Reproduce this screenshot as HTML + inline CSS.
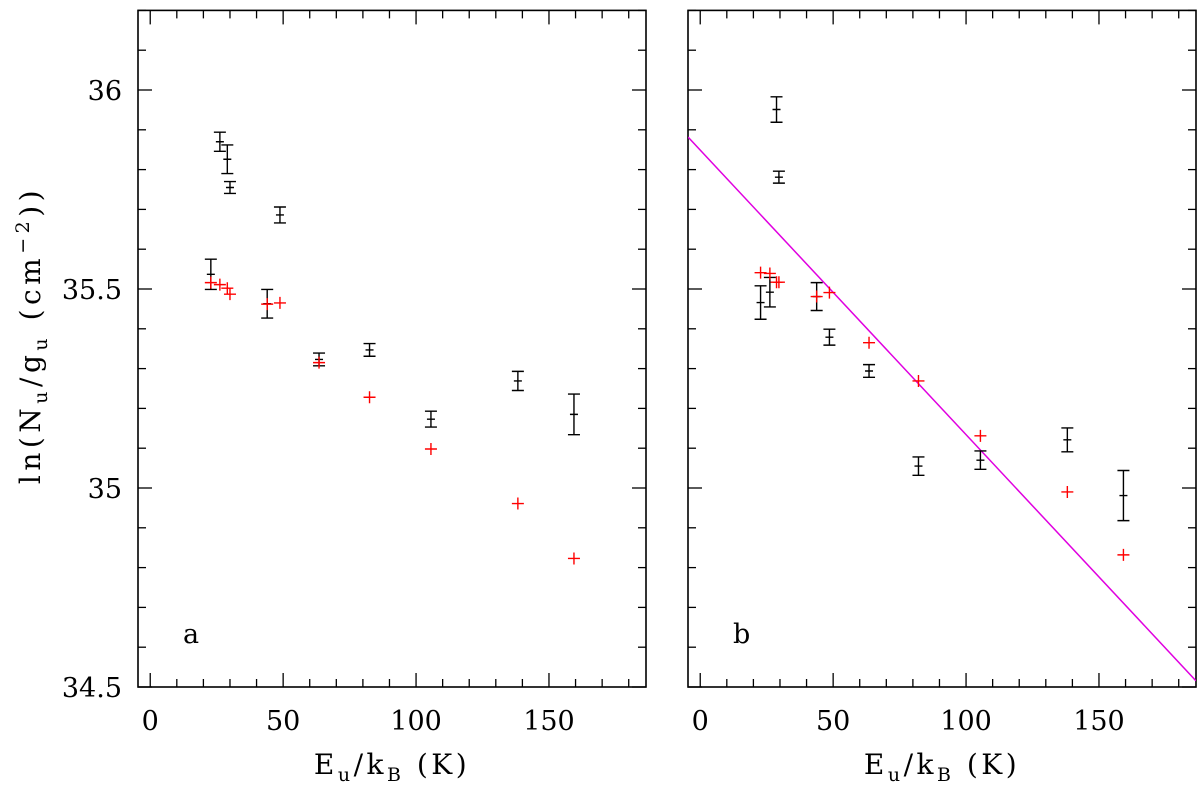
<!DOCTYPE html>
<html><head><meta charset="utf-8"><style>
body{margin:0;background:#fff}
svg{display:block}
text{font-family:"DejaVu Serif","Liberation Serif",serif;fill:#000}
</style></head><body>
<svg id="chart" width="1200" height="785" viewBox="0 0 1200 785" xmlns="http://www.w3.org/2000/svg"></svg>
<script>
const xTicks=[0,50,100,150];
const yTicks=[34.5,35,35.5,36];
const yTickLabels=["34.5","35","35.5","36"];
const energiesA=[22.8,26.2,29.0,30.0,44.0,48.8,63.5,82.5,105.6,138.3,159.4];
const blackA=[35.537,35.870,35.826,35.755,35.463,35.686,35.323,35.347,35.173,35.269,35.185];
const errA=[0.038,0.024,0.036,0.015,0.036,0.020,0.016,0.016,0.020,0.024,0.051];
const redA=[35.516,35.511,35.502,35.487,35.462,35.465,35.315,35.228,35.098,34.961,34.823];
const energiesB=[22.7,26.2,28.7,29.6,43.8,48.6,63.5,82.1,105.4,138.1,159.2];
const blackB=[35.466,35.492,35.951,35.781,35.481,35.379,35.294,35.055,35.070,35.121,34.981];
const errB=[0.042,0.037,0.032,0.015,0.035,0.020,0.016,0.023,0.023,0.030,0.063];
const redB=[35.541,35.539,35.517,35.517,35.481,35.491,35.365,35.269,35.131,34.990,34.832];
const fitIntercept=35.849;
const fitSlope=-0.00715;

const NS="http://www.w3.org/2000/svg";
const svg=document.getElementById('chart');
const X0=-4.6,X1=186.5,Y0=34.5,Y1=36.2;
function el(tag,attrs,parent){const e=document.createElementNS(NS,tag);for(const k in attrs)e.setAttribute(k,attrs[k]);(parent||svg).appendChild(e);return e;}
function makePanel(left,name,energies,black,err,red,label,fit){
  const L=left,R=left+508,T=10.4,B=687;
  const sx=v=>L+(v-X0)/(X1-X0)*(R-L);
  const sy=v=>B-(v-Y0)/(Y1-Y0)*(B-T);
  const g=el('g',{});
  
  
  const frame=el('rect',{x:L,y:T,width:R-L,height:B-T,fill:'none',stroke:'#000','stroke-width':1.6},g);
  
  
  for(let v=0;v<=180;v+=10){
    const len=(v%50===0)?14:8,x=sx(v);
    const t1=el('line',{x1:x,x2:x,y1:B,y2:B-len,stroke:'#000','stroke-width':1.3},g);
    
    const t2=el('line',{x1:x,x2:x,y1:T,y2:T+len,stroke:'#000','stroke-width':1.3},g);
    
  }
  for(let i=0;i<=17;i++){
    const v=34.5+i*0.1;if(v>Y1+1e-9)break;
    const len=(i%5===0)?14:8,y=sy(v);
    const t1=el('line',{x1:L,x2:L+len,y1:y,y2:y,stroke:'#000','stroke-width':1.3},g);
    
    const t2=el('line',{x1:R,x2:R-len,y1:y,y2:y,stroke:'#000','stroke-width':1.3},g);
    
  }
  xTicks.forEach(v=>{
    const t=el('text',{x:sx(v),y:730,'text-anchor':'middle','font-size':27},g);
    t.textContent=v;
    
  });
  const xt=el('text',{x:(L+R)/2,y:774,'text-anchor':'middle','font-size':28,'letter-spacing':3.5},g);
  xt.innerHTML='E<tspan font-size="19" dy="7">u</tspan><tspan dy="-7">/k</tspan><tspan font-size="19" dy="7">B</tspan><tspan dy="-7"> (K)</tspan>';
  
  const lb=el('text',{x:L+45,y:643,'font-size':27},g);
  lb.textContent=label;
  
  if(fit){
    const cp=el('clipPath',{id:'clip'+name},g);
    el('rect',{x:L,y:T,width:R-L,height:B-T},cp);
    const fl=el('line',{x1:sx(X0),y1:sy(fitIntercept+fitSlope*X0),x2:sx(X1),y2:sy(fitIntercept+fitSlope*X1),stroke:'#e000e0','stroke-width':1.5,'clip-path':'url(#clip'+name+')'},g);
    
  }
  energies.forEach((e,i)=>{
    const x=sx(e),y=sy(black[i]),y1=sy(black[i]+err[i]),y2=sy(black[i]-err[i]);
    const p=el('path',{d:`M${x},${y1}V${y2}M${x-6},${y1}H${x+6}M${x-6},${y2}H${x+6}M${x-4},${y}H${x+4}`,stroke:'#000','stroke-width':1.4,fill:'none'},g);
    
    const rx=sx(e),ry=sy(red[i]);
    const r=el('path',{d:`M${rx-6},${ry}H${rx+6}M${rx},${ry-6}V${ry+6}`,stroke:'#f00','stroke-width':1.4,fill:'none'},g);
    
  });
  return sy;
}
const syA=makePanel(138,'panel-a',energiesA,blackA,errA,redA,'a',false);
makePanel(688,'panel-b',energiesB,blackB,errB,redB,'b',true);
yTicks.forEach((v,i)=>{
  const t=el('text',{x:122,y:syA(v)+10,'text-anchor':'end','font-size':27});
  t.textContent=yTickLabels[i];
  
});
const yt=el('text',{x:0,y:0,'text-anchor':'middle','font-size':28,'letter-spacing':4.5,transform:'translate(40,335) rotate(-90)'});
yt.innerHTML='ln(N<tspan font-size="19" dy="7">u</tspan><tspan dy="-7">/g</tspan><tspan font-size="19" dy="7">u</tspan><tspan dy="-7"> (cm</tspan><tspan font-size="19" dy="-11">−2</tspan><tspan dy="11">))</tspan>';

</script>
</body></html>
